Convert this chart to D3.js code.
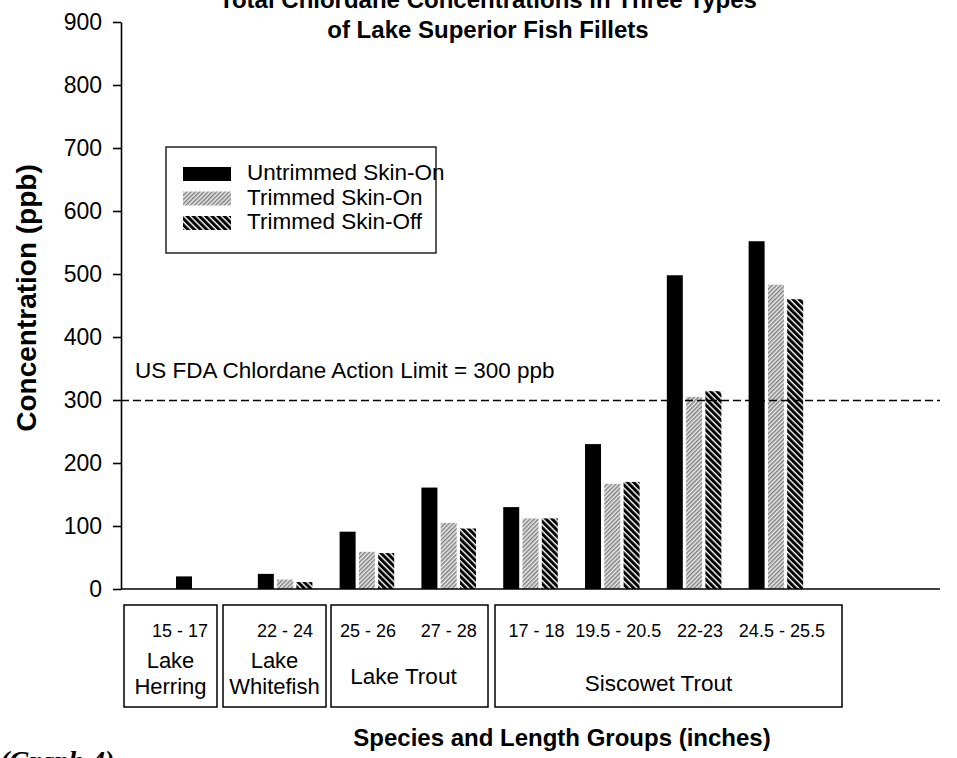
<!DOCTYPE html>
<html>
<head>
<meta charset="utf-8">
<script src="https://cdn.jsdelivr.net/npm/d3@7"></script>
<style>
  html, body { margin: 0; padding: 0; background: #fff; }
  svg { display: block; font-family: "Liberation Sans", Arial, Helvetica, sans-serif; }
</style>
</head>
<body>
<svg id="chart" width="957" height="758"></svg>
<script>
// ---- data ----
const categories = ["15 - 17", "22 - 24", "25 - 26", "27 - 28", "17 - 18", "19.5 - 20.5", "22-23", "24.5 - 25.5"];
const seriesNames = ["Untrimmed Skin-On", "Trimmed Skin-On", "Trimmed Skin-Off"];
const untrimmedSkinOn = [20, 24, 91, 161, 130, 230, 498, 552];
const trimmedSkinOn   = [null, 15, 59, 105, 112, 167, 305, 483];
const trimmedSkinOff  = [null, 11, 57, 96, 112, 170, 314, 460];
const yTicks = [0, 100, 200, 300, 400, 500, 600, 700, 800, 900];
const actionLimit = 300;
const species = [
  { name: ["Lake", "Herring"], from: 0, to: 0 },
  { name: ["Lake", "Whitefish"], from: 1, to: 1 },
  { name: ["Lake Trout"], from: 2, to: 3 },
  { name: ["Siscowet Trout"], from: 4, to: 7 }
];
const titleLines = ["Total Chlordane Concentrations in Three Types", "of Lake Superior Fish Fillets"];

// ---- layout ----
const svg = d3.select("#chart");
const axisX = 121, axisRight = 940;
const y = d3.scaleLinear().domain([0, 900]).range([589, 22]);
const x = d3.scaleBand().domain(categories).range([162.4, 816.8]).paddingInner(0.333).paddingOuter(0.1665);
const xs = d3.scaleBand().domain(seriesNames).range([0, x.bandwidth()]).paddingInner(0.171);

// patterns
const defs = svg.append("defs");
const pOn = defs.append("pattern").attr("id", "hatchOn").attr("patternUnits", "userSpaceOnUse")
  .attr("width", 3).attr("height", 3).attr("patternTransform", "rotate(45)");
pOn.append("rect").attr("width", 3).attr("height", 3).attr("fill", "#ececec");
pOn.append("rect").attr("width", 1.5).attr("height", 3).attr("fill", "#808080");
const pOff = defs.append("pattern").attr("id", "hatchOff").attr("patternUnits", "userSpaceOnUse")
  .attr("width", 4.4).attr("height", 4.4).attr("patternTransform", "rotate(-45)");
pOff.append("rect").attr("width", 4.4).attr("height", 4.4).attr("fill", "#fff");
pOff.append("rect").attr("width", 3.0).attr("height", 4.4).attr("fill", "#000");

const fills = { "Untrimmed Skin-On": "#000", "Trimmed Skin-On": "url(#hatchOn)", "Trimmed Skin-Off": "url(#hatchOff)" };
const seriesData = { "Untrimmed Skin-On": untrimmedSkinOn, "Trimmed Skin-On": trimmedSkinOn, "Trimmed Skin-Off": trimmedSkinOff };

// title
svg.append("g").selectAll("text").data(titleLines).join("text")
  .attr("x", 488).attr("y", (d, i) => 8 + i * 29.5)
  .attr("text-anchor", "middle").attr("font-weight", "bold").attr("font-size", 24)
  .text(d => d);

// bars
const bars = [];
categories.forEach((c, i) => {
  seriesNames.forEach(s => {
    const v = seriesData[s][i];
    if (v != null) bars.push({ c, s, v });
  });
});
svg.append("g").selectAll("rect").data(bars).join("rect")
  .attr("x", d => x(d.c) + xs(d.s))
  .attr("width", xs.bandwidth())
  .attr("y", d => y(d.v))
  .attr("height", d => y(0) - y(d.v))
  .attr("fill", d => fills[d.s]);

// action limit line
svg.append("line").attr("x1", axisX).attr("x2", axisRight)
  .attr("y1", y(actionLimit) + 0.5).attr("y2", y(actionLimit) + 0.5)
  .attr("stroke", "#000").attr("stroke-width", 1.5).attr("stroke-dasharray", "8,4");
svg.append("text").attr("x", 135).attr("y", 378).attr("font-size", 22.5)
  .text("US FDA Chlordane Action Limit = " + actionLimit + " ppb");

// y axis
const yAxis = svg.append("g").attr("transform", `translate(${axisX},0)`)
  .call(d3.axisLeft(y).tickValues(yTicks).tickSize(8).tickSizeOuter(0).tickPadding(11));
yAxis.select(".domain").attr("stroke-width", 1.6);
yAxis.selectAll(".tick line").attr("stroke-width", 1.6);
yAxis.selectAll(".tick text").attr("font-size", 23).attr("font-family", "Liberation Sans, Arial, sans-serif").attr("fill", "#000");

// x baseline
svg.append("line").attr("x1", axisX).attr("x2", axisRight).attr("y1", y(0)).attr("y2", y(0))
  .attr("stroke", "#000").attr("stroke-width", 1.6);

// y axis title
svg.append("text").attr("transform", "translate(36,298) rotate(-90)")
  .attr("text-anchor", "middle").attr("font-weight", "bold").attr("font-size", 28)
  .text("Concentration (ppb)");

// legend
const leg = svg.append("g");
leg.append("rect").attr("x", 166).attr("y", 147).attr("width", 270).attr("height", 106)
  .attr("fill", "#fff").attr("stroke", "#000").attr("stroke-width", 1.3);
seriesNames.forEach((s, i) => {
  leg.append("rect").attr("x", 183).attr("y", 167 + i * 24.5).attr("width", 48).attr("height", 14)
    .attr("fill", fills[s]);
  leg.append("text").attr("x", 247).attr("y", 180 + i * 24.5).attr("font-size", 22.5).text(s);
});

// species / length boxes
const boxEdges = [[124, 217], [223, 326], [331, 488], [495, 842]];
const boxTop = 605, boxBottom = 707;
const catG = svg.append("g");
species.forEach((sp, k) => {
  const [l, r] = boxEdges[k];
  catG.append("rect").attr("x", l).attr("y", boxTop).attr("width", r - l).attr("height", boxBottom - boxTop)
    .attr("fill", "none").attr("stroke", "#000").attr("stroke-width", 1.5);
  const cx = (l + r) / 2;
  if (sp.name.length === 2) {
    sp.name.forEach((n, j) => {
      catG.append("text").attr("x", cx).attr("y", 668 + j * 26).attr("text-anchor", "middle")
        .attr("font-size", 22).text(n);
    });
  } else {
    catG.append("text").attr("x", cx - (k === 3 ? 10 : 6)).attr("y", k === 2 ? 684 : 691).attr("text-anchor", "middle")
      .attr("font-size", 22.5).text(sp.name[0]);
  }
  for (let i = sp.from; i <= sp.to; i++) {
    const t = catG.append("text").attr("y", 637).attr("text-anchor", "middle").attr("font-size", 18)
      .text(categories[i]);
    const w = t.node().getComputedTextLength();
    let px = x(categories[i]) + x.bandwidth() / 2 + (k === 3 ? 6 : 0);
    px = Math.min(px, r - w / 2 - 9);
    px = Math.max(px, l + w / 2 + 9);
    t.attr("x", px);
  }
});

// x axis title
svg.append("text").attr("x", 562).attr("y", 746).attr("text-anchor", "middle")
  .attr("font-weight", "bold").attr("font-size", 24).text("Species and Length Groups (inches)");

// graph tag
svg.append("text").attr("x", 0).attr("y", 770).attr("font-family", "Liberation Serif, serif")
  .attr("font-weight", "bold").attr("font-style", "italic").attr("font-size", 28).text("(Graph 4)");
</script>
</body>
</html>
